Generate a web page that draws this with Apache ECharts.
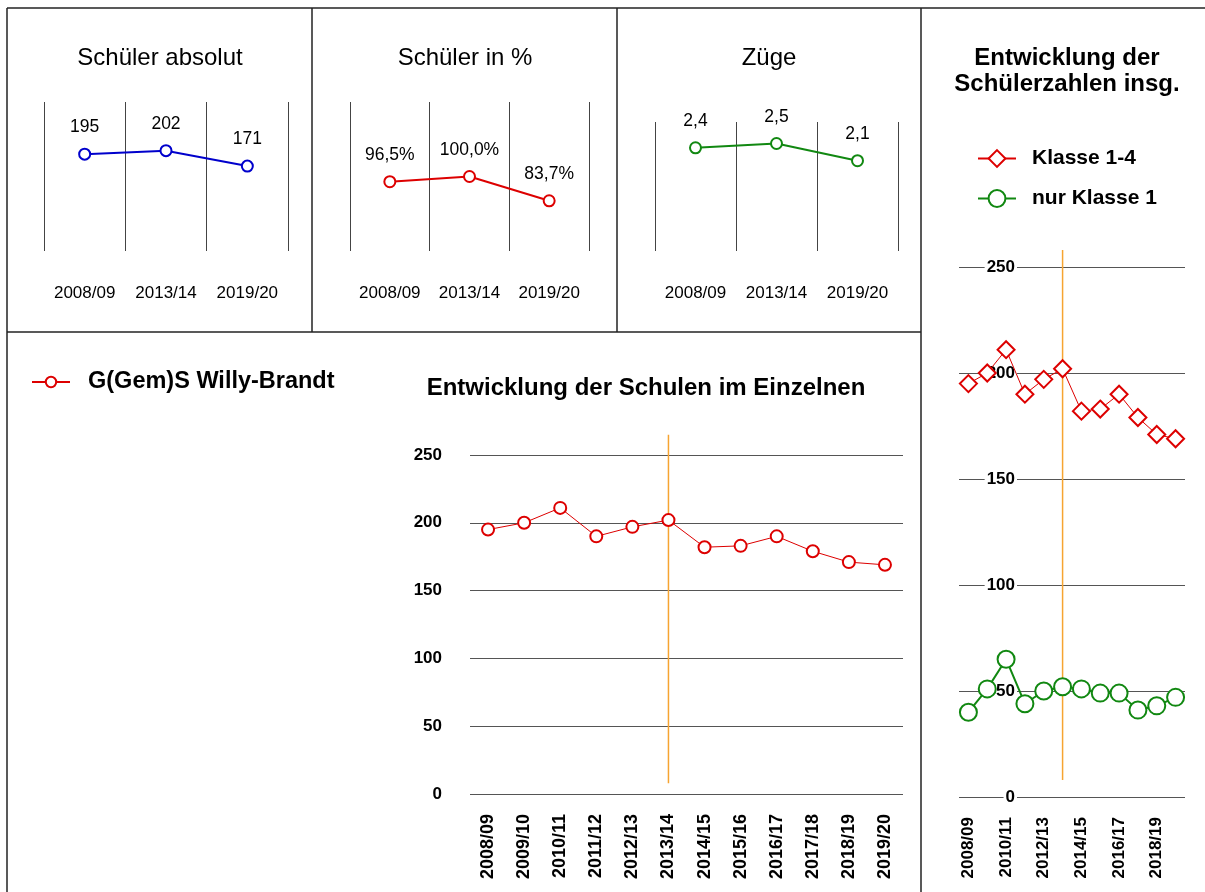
<!DOCTYPE html>
<html><head><meta charset="utf-8">
<script src="https://cdn.jsdelivr.net/npm/echarts@6/dist/echarts.min.js"></script>
<style>html,body{margin:0;padding:0;background:#fff}#c{width:1205px;height:892px}</style>
</head><body><div id="c"></div>
<script>
// ---- data ----
const topYears = ['2008/09', '2013/14', '2019/20'];
const pupilsAbs = [195, 202, 171];
const pupilsPct = [96.5, 100.0, 83.7];
const streams = [2.4, 2.5, 2.1];

const years = ['2008/09','2009/10','2010/11','2011/12','2012/13','2013/14','2014/15','2015/16','2016/17','2017/18','2018/19','2019/20'];
const schoolWB = [195, 200, 211, 190, 197, 202, 182, 183, 190, 179, 171, 169];
const totalK14 = [195, 200, 211, 190, 197, 202, 182, 183, 190, 179, 171, 169];
const totalK1 = [40, 51, 65, 44, 50, 52, 51, 49, 49, 41, 43, 47];

const markYear = '2013/14';
const markRangeMain = [8, 265];
const markRangeSide = [8, 258];

const yTicksMain = [0, 250, 50];
const yTicksSide = [0, 250, 50];

// ---- styles ----
const FONT = 'Liberation Sans, Arial, sans-serif';
const BLUE = '#0000cc', RED = '#dd0000', GREEN = '#118811', ORANGE = '#f6a431';
const fmtDec = v => v.toFixed(1).replace('.', ',');

function topX(i) {
  return {
    type: 'category', gridIndex: i, data: topYears, boundaryGap: true,
    axisLine: {show: false}, axisTick: {show: false, interval: 0},
    splitLine: {show: true, interval: 0, lineStyle: {color: '#444', width: 1}},
    axisLabel: {interval: 0, margin: 34, fontSize: 17, color: '#000', fontFamily: FONT}
  };
}
function topY(i, min, max) {
  return {type: 'value', gridIndex: i, min: min, max: max, show: false, splitLine: {show: false}};
}
function topSeries(i, name, data, color, fmt) {
  return {
    type: 'line', name: name, xAxisIndex: i, yAxisIndex: i, data: data,
    symbol: 'emptyCircle', symbolSize: 11, showAllSymbol: true,
    lineStyle: {color: color, width: 2}, itemStyle: {color: color, borderWidth: 2},
    label: {show: true, position: 'top', distance: 11, fontSize: 17.5, color: '#000', fontFamily: FONT,
            formatter: p => fmt(p.value)},
    animation: false, z: 3
  };
}
function vline(xi, range) {
  return {
    type: 'custom', xAxisIndex: xi, yAxisIndex: xi, clip: false, silent: true, z: 1,
    encode: {x: 0, y: [1, 2]},
    data: [[markYear, range[0], range[1]]],
    renderItem: (params, api) => {
      const a = api.coord([api.value(0), api.value(1)]);
      const b = api.coord([api.value(0), api.value(2)]);
      return {type: 'line', shape: {x1: a[0], y1: a[1], x2: b[0], y2: b[1]},
              style: {stroke: ORANGE, lineWidth: 1.5}};
    },
    animation: false
  };
}

const borderStyle = {stroke: '#222', lineWidth: 1.5};
function bline(x1, y1, x2, y2) {
  return {type: 'line', shape: {x1, y1, x2, y2}, style: borderStyle, silent: true, z: 10};
}

const titleNormal = {fontSize: 24, fontWeight: 'normal', color: '#000', fontFamily: FONT};
const titleBold = {fontSize: 24, fontWeight: 'bold', color: '#000', fontFamily: FONT};

const option = {
  backgroundColor: '#fff',
  animation: false,
  textStyle: {fontFamily: FONT},
  title: [
    {text: 'Schüler absolut', left: 160, top: 46, textAlign: 'center', padding: 0, textStyle: titleNormal},
    {text: 'Schüler in %', left: 465, top: 46, textAlign: 'center', padding: 0, textStyle: titleNormal},
    {text: 'Züge', left: 769, top: 46, textAlign: 'center', padding: 0, textStyle: titleNormal},
    {text: 'Entwicklung der Schulen im Einzelnen', left: 646, top: 376, textAlign: 'center', padding: 0, textStyle: titleBold},
    {text: 'Entwicklung der\nSchülerzahlen insg.', left: 1067, top: 45, textAlign: 'center', padding: 0,
     textStyle: Object.assign({}, titleBold, {lineHeight: 26})}
  ],
  legend: [
    {data: ['G(Gem)S Willy-Brandt'], left: 31, top: 370, padding: 0, itemWidth: 38, itemHeight: 13,
     selectedMode: false,
     textStyle: {fontSize: 23.5, fontWeight: 'bold', color: '#000', padding: [0, 0, 0, 13], fontFamily: FONT}},
    {data: ['Klasse 1-4', 'nur Klasse 1'], orient: 'vertical', left: 977, top: 148, padding: 0,
     itemWidth: 38, itemHeight: 21, itemGap: 19, selectedMode: false,
     textStyle: {fontSize: 21, fontWeight: 'bold', color: '#000', padding: [0, 0, 0, 11], fontFamily: FONT}}
  ],
  grid: [
    {left: 44, top: 102, width: 244, height: 149},
    {left: 350, top: 102, width: 239, height: 149},
    {left: 655, top: 122, width: 243, height: 129},
    {left: 470, top: 455, width: 433, height: 339},
    {left: 959, top: 267, width: 226, height: 530}
  ],
  xAxis: [
    topX(0), topX(1), topX(2),
    {type: 'category', gridIndex: 3, data: years, boundaryGap: true,
     axisLine: {show: false}, axisTick: {show: false}, splitLine: {show: false},
     axisLabel: {rotate: 90, margin: 20, fontSize: 18, fontWeight: 'bold', color: '#000', interval: 0, fontFamily: FONT}},
    {type: 'category', gridIndex: 4, data: years, boundaryGap: true,
     axisLine: {show: false}, axisTick: {show: false}, splitLine: {show: false},
     axisLabel: {rotate: 90, margin: 20, fontSize: 17, fontWeight: 'bold', color: '#000', interval: 1, fontFamily: FONT}}
  ],
  yAxis: [
    topY(0, 0, 300), topY(1, 50, 150), topY(2, 0, 3),
    {type: 'value', gridIndex: 3, min: yTicksMain[0], max: yTicksMain[1], interval: yTicksMain[2],
     axisLine: {show: false}, axisTick: {show: false},
     splitLine: {show: true, lineStyle: {color: '#555', width: 1}},
     axisLabel: {margin: 28, fontSize: 17, fontWeight: 'bold', color: '#000', fontFamily: FONT}},
    {type: 'value', gridIndex: 4, min: yTicksSide[0], max: yTicksSide[1], interval: yTicksSide[2],
     axisLine: {show: false}, axisTick: {show: false},
     splitLine: {show: true, lineStyle: {color: '#555', width: 1}},
     axisLabel: {margin: -58, fontSize: 17, fontWeight: 'bold', color: '#000', fontFamily: FONT,
                 backgroundColor: '#fff', padding: [0, 2]}}
  ],
  series: [
    topSeries(0, 'abs', pupilsAbs, BLUE, v => String(v)),
    topSeries(1, 'pct', pupilsPct, RED, v => fmtDec(v) + '%'),
    topSeries(2, 'zuege', streams, GREEN, v => fmtDec(v)),
    vline(3, markRangeMain),
    {type: 'line', name: 'G(Gem)S Willy-Brandt', xAxisIndex: 3, yAxisIndex: 3, data: schoolWB,
     symbol: 'emptyCircle', symbolSize: 12, showAllSymbol: true,
     lineStyle: {color: RED, width: 1}, itemStyle: {color: RED, borderWidth: 2}, z: 3},
    vline(4, markRangeSide),
    {type: 'line', name: 'Klasse 1-4', xAxisIndex: 4, yAxisIndex: 4, data: totalK14,
     symbol: 'emptyDiamond', symbolSize: 17, showAllSymbol: true,
     lineStyle: {color: RED, width: 1}, itemStyle: {color: RED, borderWidth: 2}, z: 3},
    {type: 'line', name: 'nur Klasse 1', xAxisIndex: 4, yAxisIndex: 4, data: totalK1,
     symbol: 'emptyCircle', symbolSize: 17, showAllSymbol: true,
     lineStyle: {color: GREEN, width: 2}, itemStyle: {color: GREEN, borderWidth: 2}, z: 3}
  ],
  graphic: [
    bline(7, 8, 1205, 8),
    bline(7, 8, 7, 892),
    bline(7, 332, 921, 332),
    bline(312, 8, 312, 332),
    bline(617, 8, 617, 332),
    bline(921, 8, 921, 892)
  ]
};

const chart = echarts.init(document.getElementById('c'), null, {renderer: 'canvas'});
chart.setOption(option);
</script>
</body></html>
